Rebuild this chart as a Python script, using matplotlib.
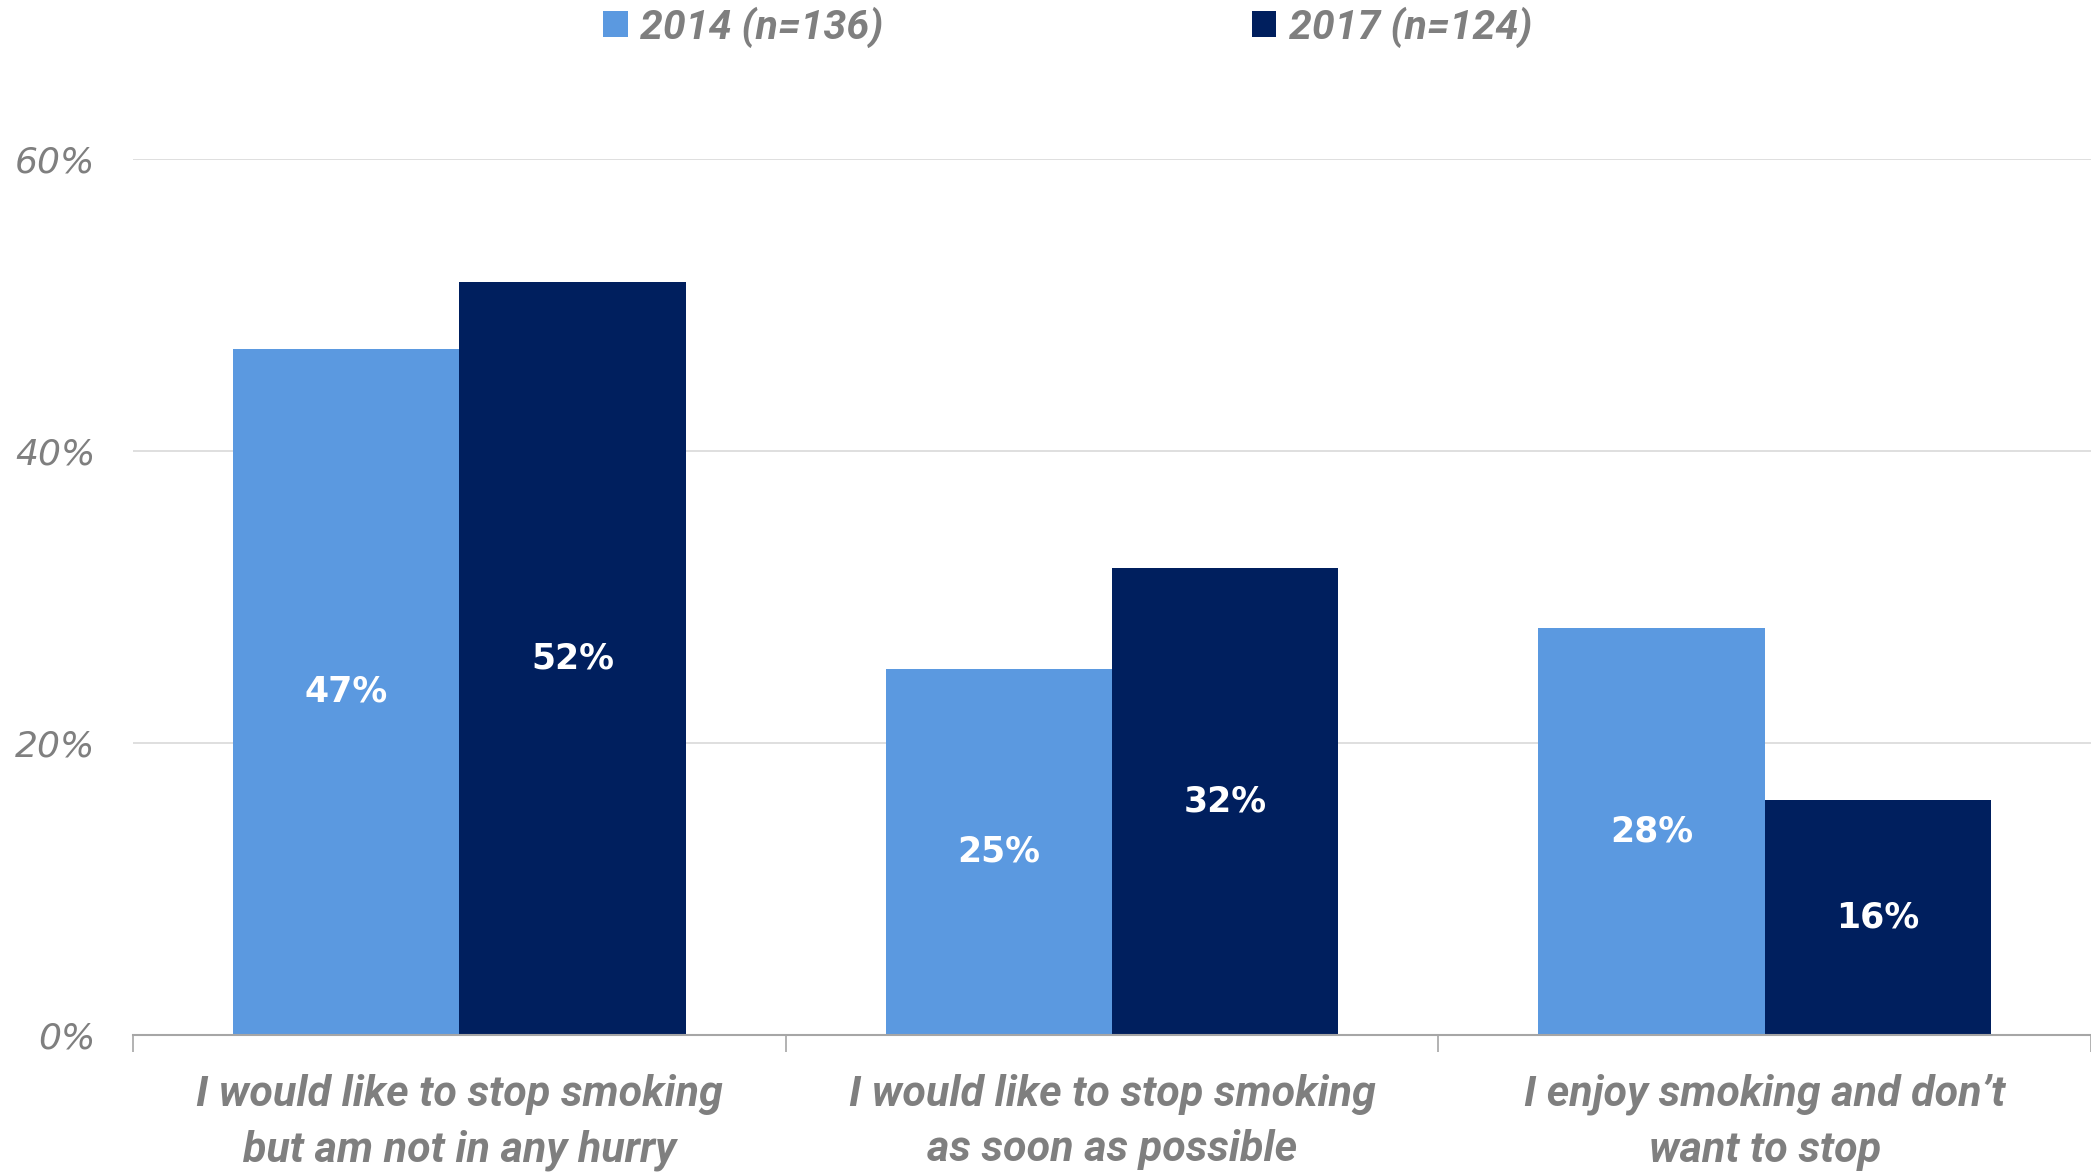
import matplotlib.pyplot as plt
from matplotlib.ticker import FixedLocator, FuncFormatter
import numpy as np

categories = ["I would like to stop smoking\nbut am not in any hurry",
              "I would like to stop smoking\nas soon as possible",
              "I enjoy smoking and don\u2019t\nwant to stop"]
vals_2014 = [47.0, 25.1, 27.9]
vals_2017 = [51.6, 32.0, 16.1]
series_names = ["2014 (n=136)", "2017 (n=124)"]
yticks = [0, 20, 40, 60]

c_light = "#5B99E0"
c_dark = "#001F5E"
grey = "#7F7F7F"
narrow = ["Roboto", "DejaVu Sans"]

fig = plt.figure(figsize=(20.91, 11.73), dpi=100)
ax = fig.add_axes([0.0636, 0.1176, 0.9364, 0.7469])

x = np.arange(len(categories))
w = 0.347
b1 = ax.bar(x - w/2, vals_2014, w, color=c_light, label=series_names[0], zorder=2)
b2 = ax.bar(x + w/2, vals_2017, w, color=c_dark, label=series_names[1], zorder=2)

for bars, vals in [(b1, vals_2014), (b2, vals_2017)]:
    for b, v in zip(bars, vals):
        ax.text(b.get_x() + b.get_width()/2, v/2, f"{v:.0f}%", ha="center", va="center",
                color="white", fontsize=25, fontweight="bold", family="DejaVu Sans")

ax.set_xlim(-0.5, 2.5)
ax.set_ylim(0, 60)
ax.yaxis.set_major_locator(FixedLocator(yticks))
ax.yaxis.set_major_formatter(FuncFormatter(lambda v, p: f"{int(v)}%"))
ax.tick_params(axis="y", length=0, pad=27, labelsize=26, labelcolor=grey)
for t in ax.get_yticklabels():
    t.set_fontstyle("italic")

ax.set_xticks(x)
ax.set_xticklabels(categories, fontsize=31, color=grey, fontstyle="italic",
                   fontweight="bold", family=narrow, linespacing=1.45)
ax.tick_params(axis="x", which="major", length=0, pad=28)
ax.set_xticks([-0.5, 0.5, 1.5, 2.5], minor=True)
ax.tick_params(axis="x", which="minor", length=12, width=1.2, color="#A6A6A6", direction="out")

ax.grid(axis="y", color="#D9D9D9", linewidth=1.2, zorder=0)
for s in ["top", "right", "left"]:
    ax.spines[s].set_visible(False)
ax.spines["bottom"].set_color("#A6A6A6")
ax.spines["bottom"].set_linewidth(1.5)
ax.spines["bottom"].set_zorder(3)

leg = fig.legend(loc="center", bbox_to_anchor=(0.5105, 0.977), ncol=2, frameon=False,
                 handlelength=0.6, handleheight=0.6, handletextpad=0.3, columnspacing=9,
                 prop={"family": narrow, "size": 29.5, "style": "italic", "weight": "bold"})
for t in leg.get_texts():
    t.set_color(grey)

fig.savefig("out.png", dpi=100)
